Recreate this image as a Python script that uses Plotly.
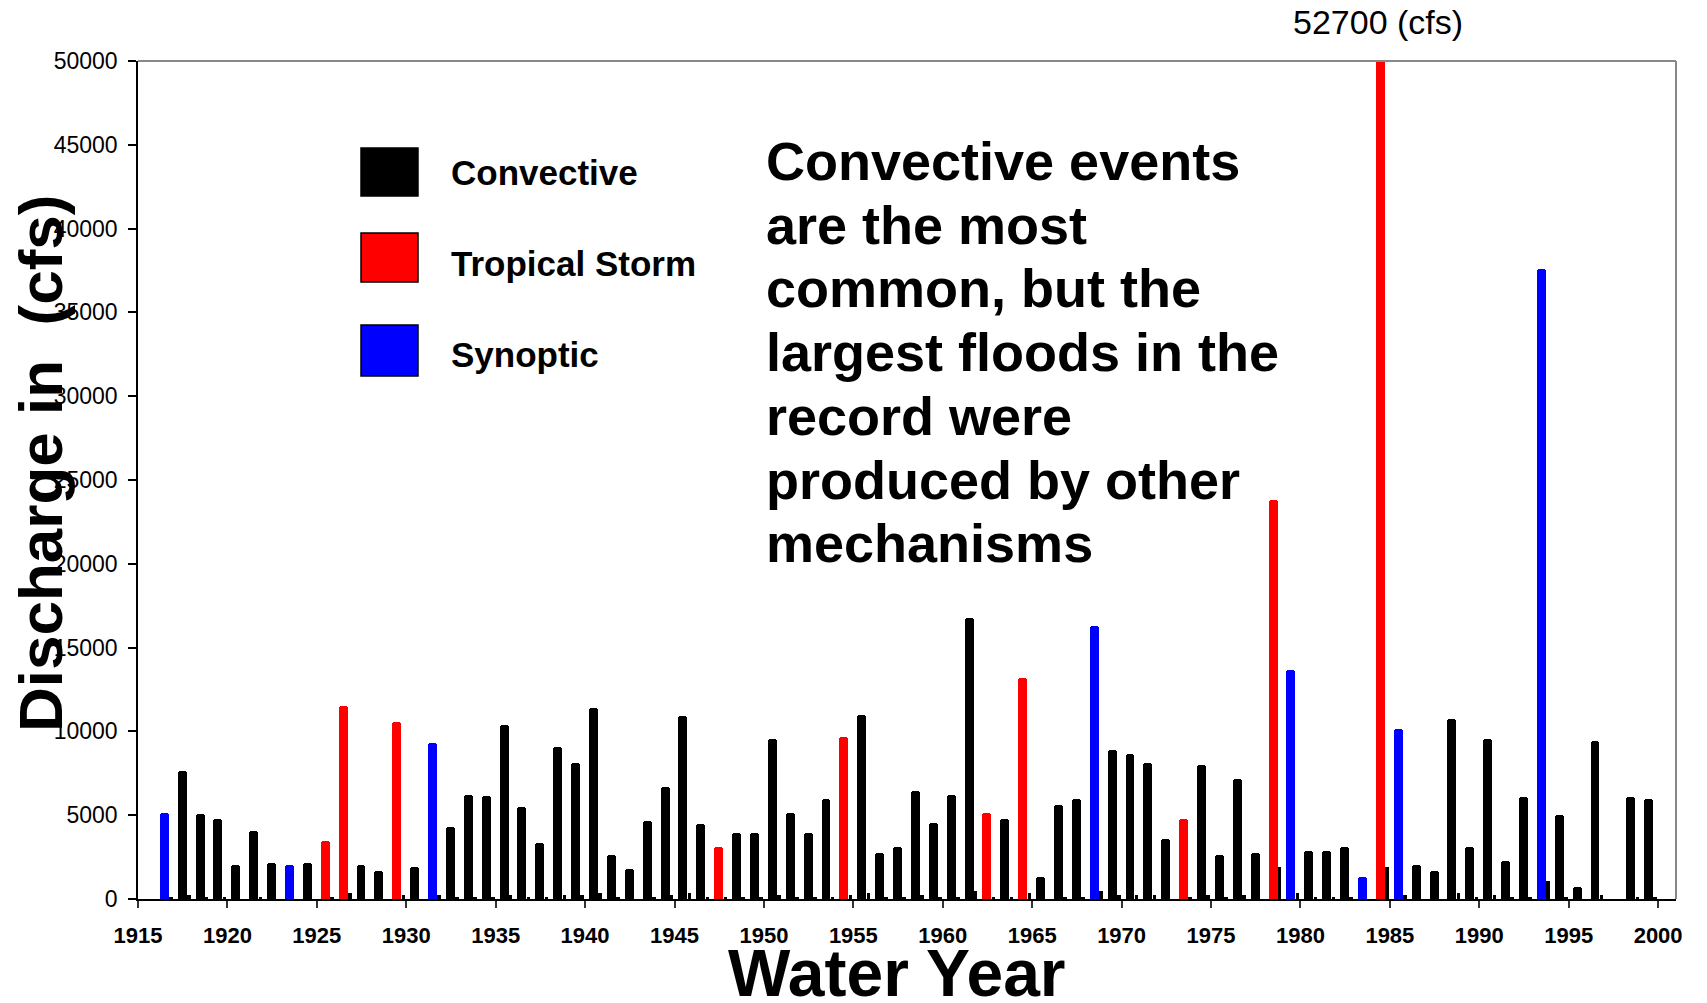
import plotly.graph_objects as go

# ---------------- data ----------------
conv_years = [1917, 1918, 1919, 1920, 1921, 1922, 1924, 1927, 1928, 1930,
              1932, 1933, 1934, 1935, 1936, 1937, 1938, 1939, 1940, 1941,
              1942, 1943, 1944, 1945, 1946, 1948, 1949, 1950, 1951, 1952,
              1953, 1955, 1956, 1957, 1958, 1959, 1960, 1961, 1963, 1965,
              1966, 1967, 1969, 1970, 1971, 1972, 1974, 1975, 1976, 1977,
              1980, 1981, 1982, 1986, 1987, 1988, 1989, 1990, 1991, 1992,
              1994, 1995, 1996, 1998, 1999]
conv_vals = [7650, 5050, 4800, 2030, 4080, 2170, 2170, 2030, 1690, 1910,
             4290, 6220, 6120, 10400, 5500, 3360, 9080, 8130, 11370, 2620,
             1810, 4670, 6700, 10890, 4450, 3950, 3950, 9560, 5150, 3950,
             5980, 10990, 2760, 3100, 6460, 4550, 6220, 16780, 4790, 1310,
             5620, 5980, 8870, 8630, 8130, 3600, 8010, 2600, 7180, 2760,
             2880, 2880, 3120, 2030, 1690, 10750, 3100, 9560, 2290, 6100,
             5030, 720, 9440, 6100, 5980]

trop_years = [1925, 1926, 1929, 1947, 1954, 1962, 1964, 1973, 1978, 1984]
trop_vals = [3480, 11490, 10540, 3120, 9680, 5150, 13160, 4790, 23830, 52700]

syn_years = [1916, 1923, 1931, 1968, 1979, 1983, 1985, 1993]
syn_vals = [5150, 2030, 9320, 16300, 13640, 1330, 10160, 37600]

minor_years = [1916, 1917, 1918, 1919, 1921, 1925, 1926, 1929, 1931, 1932,
               1933, 1934, 1935, 1936, 1937, 1938, 1939, 1940, 1941, 1943,
               1944, 1945, 1946, 1947, 1948, 1949, 1950, 1951, 1952, 1953,
               1954, 1955, 1956, 1957, 1958, 1959, 1960, 1961, 1962, 1963,
               1964, 1966, 1967, 1968, 1969, 1970, 1971, 1973, 1974, 1975,
               1976, 1978, 1979, 1980, 1981, 1982, 1984, 1985, 1988, 1989,
               1990, 1991, 1992, 1993, 1994, 1996, 1998, 1999]
minor_vals = [140, 240, 140, 140, 140, 140, 380, 240, 240, 140,
              140, 140, 240, 140, 140, 240, 240, 380, 140, 140,
              240, 380, 140, 140, 140, 140, 240, 140, 140, 140,
              240, 380, 140, 140, 240, 140, 140, 500, 140, 140,
              380, 140, 140, 500, 240, 240, 240, 140, 240, 140,
              240, 1910, 380, 140, 140, 140, 1930, 240, 380, 140,
              240, 140, 140, 1090, 140, 240, 140, 140]

x_ticks = list(range(1915, 2001, 5))
y_ticks = list(range(0, 50001, 5000))

series_names = ["Convective", "Tropical Storm", "Synoptic"]
series_colors = ["#000000", "#ff0000", "#0000ff"]

peak_label = "52700 (cfs)"
note_lines = ["Convective events", "are the most", "common, but the",
              "largest floods in the", "record were", "produced by other",
              "mechanisms"]

# ---------------- layout geometry ----------------
W, H = 1707, 1003
L, R, T, B = 138, 1676, 61, 899


def px(x):
    return (x - L) / (R - L)


def py(y):
    return (B - y) / (B - T)


FONT = "Liberation Sans, Arial, sans-serif"

fig = go.Figure()

for yrs, vals, name, col in zip([conv_years, trop_years, syn_years],
                                [conv_vals, trop_vals, syn_vals],
                                series_names, series_colors):
    fig.add_trace(go.Bar(x=yrs, y=vals, name=name, width=0.5, offset=0.22,
                         marker=dict(color=col, line=dict(width=0), cornerradius=3),
                         showlegend=False))

fig.add_trace(go.Bar(x=minor_years, y=minor_vals, name="minor", width=0.2, offset=0.74,
                     marker=dict(color="#000000", line=dict(width=0)),
                     showlegend=False))

annotations = []
shapes = []

# frame (top/right in gray)
shapes.append(dict(type="line", xref="paper", yref="paper", x0=0, x1=1, y0=1, y1=1,
                   line=dict(color="#888888", width=2)))
shapes.append(dict(type="line", xref="paper", yref="paper", x0=1, x1=1, y0=0, y1=1,
                   line=dict(color="#888888", width=2)))

# custom legend
sq_y = [(148, 196), (233, 282), (325, 376)]
lab_y = [172, 263, 355]
for (y0, y1), ly, name, col in zip(sq_y, lab_y, series_names, series_colors):
    shapes.append(dict(type="rect", xref="paper", yref="paper",
                       x0=px(361), x1=px(418), y0=py(y1), y1=py(y0),
                       fillcolor=col, line=dict(color="#000000", width=1.5)))
    annotations.append(dict(xref="paper", yref="paper", x=px(449), y=py(ly),
                            xanchor="left", yanchor="middle", showarrow=False,
                            text=name, font=dict(family=FONT, size=35, color="black", weight="bold")))

# big note text
for i, line in enumerate(note_lines):
    cy = 161 + i * 63.7
    annotations.append(dict(xref="paper", yref="paper", x=px(764), y=py(cy),
                            xanchor="left", yanchor="middle", showarrow=False,
                            text=line, font=dict(family=FONT, size=54, color="black", weight="bold")))

# peak annotation
annotations.append(dict(xref="paper", yref="paper", x=px(1378), y=py(22),
                        xanchor="center", yanchor="middle", showarrow=False,
                        text=peak_label, font=dict(family=FONT, size=34, color="black")))

# axis titles
annotations.append(dict(xref="paper", yref="paper", x=px(897), y=py(973),
                        xanchor="center", yanchor="middle", showarrow=False,
                        text="Water Year", font=dict(family=FONT, size=66, color="black", weight="bold")))
annotations.append(dict(xref="paper", yref="paper", x=px(40), y=py(464),
                        xanchor="center", yanchor="middle", showarrow=False, textangle=-90,
                        text="Discharge in\u00a0 (cfs)",
                        font=dict(family=FONT, size=62, color="black", weight="bold")))

fig.update_layout(
    width=W, height=H,
    margin=dict(l=L, r=W - R, t=T, b=H - B, pad=0),
    paper_bgcolor="white", plot_bgcolor="white",
    barmode="overlay", bargap=0,
    annotations=annotations, shapes=shapes,
    xaxis=dict(range=[1915, 2001], tickvals=x_ticks, ticktext=[str(v) for v in x_ticks],
               showgrid=False, zeroline=False, showline=True, linecolor="black", linewidth=1.5,
               ticks="outside", ticklen=7, tickwidth=1.5, tickcolor="#333333",
               ticklabelstandoff=9,
               tickfont=dict(family=FONT, size=22, color="black", weight="bold")),
    yaxis=dict(range=[0, 50000], tickvals=y_ticks, ticktext=[str(v) for v in y_ticks],
               showgrid=False, zeroline=False, showline=True, linecolor="black", linewidth=1.5,
               ticks="outside", ticklen=8, tickwidth=1.5, tickcolor="black",
               ticklabelstandoff=6,
               tickfont=dict(family=FONT, size=23, color="black")),
)

fig.write_html("out.html", config={"displayModeBar": False},
               post_script="document.body.style.margin='0';document.body.style.overflow='hidden';")
